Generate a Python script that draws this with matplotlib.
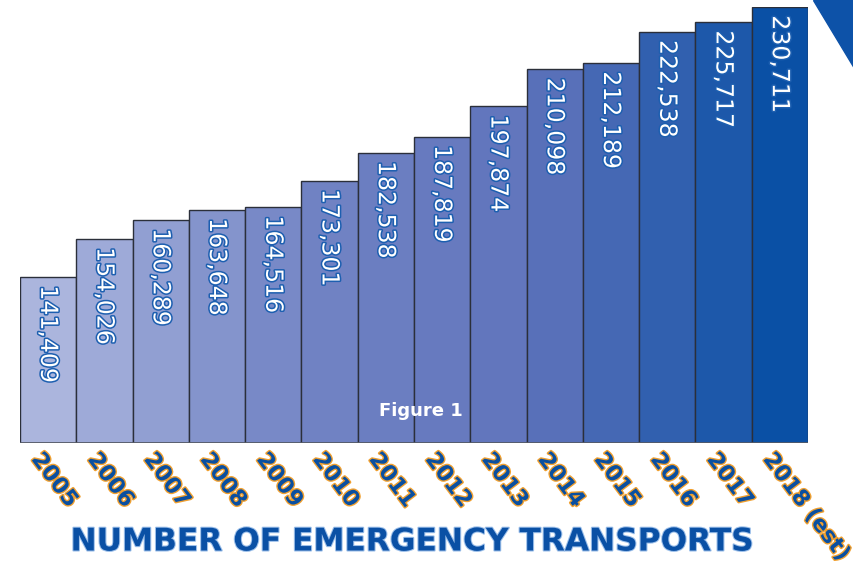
import matplotlib
matplotlib.use("Agg")
import matplotlib.pyplot as plt
import matplotlib.patheffects as pe
from matplotlib.colors import LinearSegmentedColormap
from matplotlib.patches import Polygon
import numpy as np

years = ["2005", "2006", "2007", "2008", "2009", "2010", "2011",
         "2012", "2013", "2014", "2015", "2016", "2017", "2018 (est)"]
transports = [141409, 154026, 160289, 163648, 164516, 173301, 182538,
              187819, 197874, 210098, 212189, 222538, 225717, 230711]

W, H = 854, 564
fig = plt.figure(figsize=(W / 100, H / 100), dpi=100)
ax = fig.add_axes([20 / W, 121 / H, 788 / W, 436 / H])

cmap = LinearSegmentedColormap.from_list("blues", ["#abb5dd", "#7385c5", "#5f73bb", "#0a50a5"])
colors = [cmap(i / (len(years) - 1)) for i in range(len(years))]

x = np.arange(len(years))
ax.bar(x, transports, width=1.0, color=colors, edgecolor="#2b2f3a", linewidth=1.0, zorder=2)
ax.set_xlim(-0.5, len(years) - 0.5)
ax.set_ylim(86500, 230711)
ax.axis("off")
ax.axhline(86500, color="#555a66", lw=2, zorder=3)

# value labels inside the bars
num_fx = [pe.withStroke(linewidth=2.2, foreground="#1d5fb0")]
for xi, v in zip(x, transports):
    ax.annotate(f"{v:,}", (xi, v), xytext=(0, -6), textcoords="offset points",
                rotation=-90, ha="center", va="top", color="white",
                fontsize=17, family="DejaVu Sans",
                path_effects=num_fx, zorder=4)

# year labels under the bars
tick_fx = [pe.withStroke(linewidth=2, foreground="#f0a030")]
for xi, lab in zip(x, years):
    ax.annotate(lab, (xi, 86500), xytext=(-9, -9), textcoords="offset points",
                rotation=-53, rotation_mode="anchor", ha="left", va="center",
                color="#0a4fa0", fontsize=16, fontweight="bold", family="DejaVu Sans",
                path_effects=tick_fx, annotation_clip=False)

fig.text(421 / W, 1 - 411 / H, "Figure 1", ha="center", va="center",
         color="white", fontsize=13, fontweight="bold", family="DejaVu Sans", zorder=5)

fig.text(412 / W, 1 - 542 / H, "NUMBER OF EMERGENCY TRANSPORTS", ha="center", va="center",
         color="#0a50a5", fontsize=22.5, fontweight="bold", family="DejaVu Sans",
         path_effects=[pe.withStroke(linewidth=1.5, foreground="#9dc0ea")])

fig.patches.append(Polygon([(813 / W, 1.0), (854 / W, 1.0), (854 / W, 1 - 68 / H)],
                           closed=True, transform=fig.transFigure, color="#0d52a8"))

fig.savefig("out.png", dpi=100)
